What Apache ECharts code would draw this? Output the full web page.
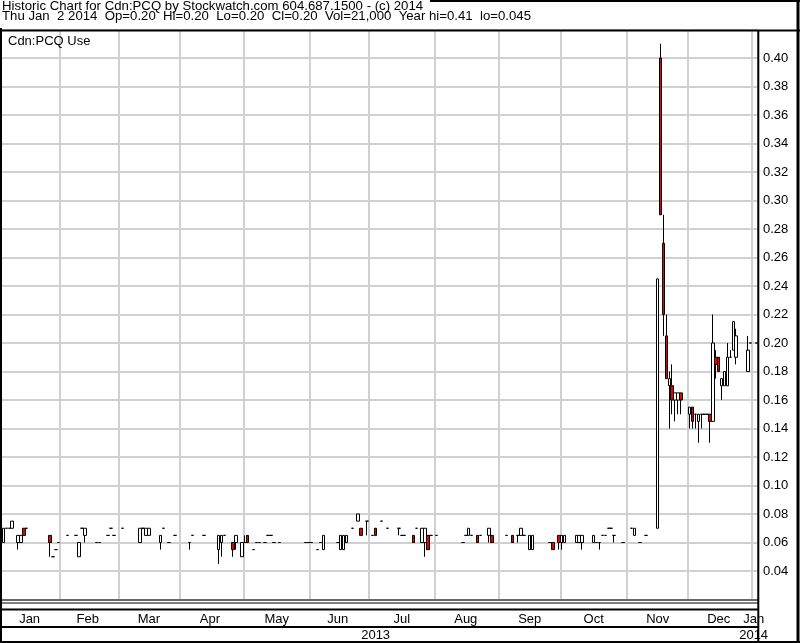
<!DOCTYPE html>
<html><head><meta charset="utf-8">
<script src="https://cdn.jsdelivr.net/npm/echarts/dist/echarts.min.js"></script>
<style>html,body{margin:0;padding:0;background:#fff}#c{width:800px;height:643px}</style>
</head><body><div id="c"></div><script>
// ---- data: rows are [dayOfMonth, open, close, low, high] ----
const jan13 = [[4,.06,.07,.06,.07],[7,.07,.07,.07,.07],[8,.07,.07,.07,.07],[9,.07,.075,.07,.075],[11,.06,.065,.055,.065],[14,.06,.065,.06,.065],[15,.07,.065,.065,.07],[16,.07,.07,.07,.07],[28,.065,.06,.05,.065],[29,.05,.05,.05,.05],[30,.055,.055,.055,.055],[31,.06,.06,.06,.06]];
const feb13 = [[5,.065,.065,.065,.065],[8,.065,.065,.065,.065],[11,.05,.06,.05,.06],[12,.07,.07,.07,.07],[13,.065,.07,.06,.07],[19,.06,.06,.06,.06],[20,.06,.06,.06,.06],[25,.065,.065,.065,.065],[26,.07,.07,.07,.07],[27,.065,.065,.065,.065]];
const mar13 = [[4,.07,.07,.07,.07],[12,.06,.07,.06,.07],[13,.07,.07,.07,.07],[14,.065,.07,.065,.07],[15,.065,.07,.065,.07],[21,.06,.065,.055,.065],[22,.07,.07,.07,.07],[26,.06,.06,.06,.06],[28,.065,.065,.065,.065]];
const apr13 = [[4,.06,.06,.055,.06],[5,.065,.065,.065,.065],[11,.065,.065,.065,.065],[18,.055,.065,.045,.065],[19,.06,.065,.05,.065],[22,.065,.065,.065,.065],[25,.06,.055,.05,.06],[26,.06,.065,.055,.065],[30,.05,.06,.05,.06]];
const may13 = [[1,.06,.06,.06,.065],[2,.065,.06,.06,.065],[6,.055,.055,.055,.055],[7,.06,.06,.06,.06],[8,.06,.06,.06,.06],[10,.06,.06,.06,.06],[13,.065,.065,.065,.065],[14,.065,.065,.065,.065],[15,.06,.06,.06,.06],[17,.06,.06,.06,.06],[30,.06,.06,.06,.06],[31,.06,.06,.06,.06]];
const jun13 = [[3,.06,.06,.06,.06],[5,.055,.055,.055,.055],[6,.06,.06,.06,.06],[7,.055,.065,.055,.065],[14,.06,.06,.06,.06],[17,.055,.065,.055,.065],[18,.055,.065,.055,.065],[19,.06,.065,.06,.065],[21,.07,.07,.07,.07],[25,.075,.08,.075,.08],[26,.07,.065,.065,.07],[28,.075,.075,.065,.075]];
const jul13 = [[2,.065,.065,.065,.065],[3,.07,.065,.065,.07],[5,.075,.075,.075,.075],[9,.07,.07,.07,.07],[15,.07,.07,.065,.07],[16,.065,.065,.065,.065],[17,.065,.065,.065,.065],[22,.065,.06,.06,.065],[23,.07,.07,.07,.07],[25,.06,.07,.06,.07],[26,.06,.07,.05,.07],[29,.065,.055,.055,.065],[30,.065,.065,.065,.065]];
const aug13 = [[1,.065,.065,.065,.065],[14,.06,.06,.06,.06],[15,.065,.065,.065,.065],[16,.065,.07,.065,.07],[19,.065,.065,.065,.065],[21,.065,.06,.06,.065],[22,.065,.065,.065,.065],[27,.065,.07,.06,.07],[28,.065,.06,.06,.065]];
const sep13 = [[4,.065,.065,.065,.065],[6,.065,.06,.06,.065],[10,.065,.065,.06,.065],[11,.065,.07,.065,.07],[12,.065,.065,.065,.065],[16,.055,.065,.055,.065],[17,.055,.065,.055,.065],[25,.06,.06,.06,.06],[26,.06,.055,.055,.06],[30,.065,.06,.055,.065]];
const oct13 = [[1,.06,.065,.055,.065],[2,.06,.065,.06,.065],[8,.06,.065,.06,.065],[9,.06,.065,.06,.065],[10,.06,.065,.055,.065],[16,.06,.065,.06,.065],[17,.06,.06,.06,.06],[18,.06,.06,.055,.06],[21,.065,.065,.065,.065],[22,.065,.065,.065,.065],[23,.07,.07,.07,.07],[24,.07,.07,.07,.07],[25,.065,.065,.06,.065],[30,.06,.06,.06,.06]];
const nov13 = [[4,.07,.07,.07,.07],[5,.065,.07,.065,.07],[7,.06,.06,.06,.06],[11,.065,.065,.065,.065],[15,.07,.245,.07,.245],[18,.40,.29,.29,.41],[19,.27,.22,.205,.29],[20,.205,.175,.175,.22],[21,.17,.175,.14,.18],[22,.17,.16,.15,.185],[25,.16,.165,.145,.165],[26,.16,.165,.15,.165],[27,.165,.16,.15,.165]];
const dec13 = [[2,.15,.155,.14,.155],[3,.155,.145,.14,.155],[4,.15,.15,.14,.15],[5,.145,.15,.13,.15],[6,.15,.15,.14,.15],[9,.15,.15,.15,.15],[10,.15,.15,.15,.15],[11,.15,.145,.13,.15],[12,.145,.20,.145,.22],[13,.19,.185,.175,.195],[16,.19,.18,.18,.19],[17,.17,.175,.16,.175],[18,.17,.18,.17,.18],[19,.17,.19,.17,.20],[20,.19,.19,.19,.195],[23,.195,.215,.195,.215],[24,.19,.205,.185,.21],[30,.18,.195,.18,.205],[31,.20,.20,.20,.20]];
const jan14 = [[2,.20,.20,.20,.20]];

const monthNames = ['Jan','Feb','Mar','Apr','May','Jun','Jul','Aug','Sep','Oct','Nov','Dec'];
const yearNames = ['2013','2014'];
const headerLine1 = 'Historic Chart for Cdn:PCQ by Stockwatch.com 604.687.1500 - (c) 2014';
const headerLine2 = 'Thu Jan  2 2014  Op=0.20  Hi=0.20  Lo=0.20  Cl=0.20  Vol=21,000  Year hi=0.41  lo=0.045';
const panelLabel = 'Cdn:PCQ Use';

// ---- build weekday categories (Jan 4 2013 .. Jan 2 2014) ----
const dates = [];
for (let t = Date.UTC(2013,0,4); t <= Date.UTC(2014,0,2); t += 86400000) {
  const d = new Date(t), wd = d.getUTCDay();
  if (wd !== 0 && wd !== 6) dates.push(d.toISOString().slice(0,10));
}
const monthly = [['2013-01',jan13],['2013-02',feb13],['2013-03',mar13],['2013-04',apr13],['2013-05',may13],['2013-06',jun13],['2013-07',jul13],['2013-08',aug13],['2013-09',sep13],['2013-10',oct13],['2013-11',nov13],['2013-12',dec13],['2014-01',jan14]];
const byDate = {};
monthly.forEach(([ym, rows]) => rows.forEach(r => {
  byDate[ym + '-' + String(r[0]).padStart(2,'0')] = [r[1], r[2], r[3], r[4]];
}));
const candles = dates.map(d => byDate[d] || ['-','-','-','-']);

// month starts / label positions
const monthStarts = [], monthLens = [];
dates.forEach((d,i) => {
  if (i === 0 || d.slice(0,7) !== dates[i-1].slice(0,7)) { monthStarts.push(i); monthLens.push(1); }
  else monthLens[monthLens.length-1]++;
});
const gridIdx = new Set(monthStarts.slice(1));
const monthLabelIdx = new Set(monthStarts.map((s,k) => s + Math.floor((monthLens[k]-1)/2)));
const firstOf2014 = dates.findIndex(d => d.startsWith('2014'));
const yearLabelIdx = new Set([Math.floor((firstOf2014-1)/2), firstOf2014]);

const FONT = '"Liberation Sans", Arial, sans-serif';
const GRID = '#d0d0d0';
const chart = echarts.init(document.getElementById('c'), null, {renderer:'canvas'});
const L = (x1,y1,x2,y2,w) => ({type:'line', z:100, silent:true, shape:{x1,y1,x2,y2}, style:{stroke:'#000', lineWidth:w}});
const T = (txt, x, y, size, sx) => ({type:'text', z:100, silent:true, x, y, scaleX: sx, scaleY: 1,
  style:{text: txt, x: 0, y: 0, font: size + 'px ' + FONT, fill:'#000', verticalAlign:'top', align:'left'}});
chart.setOption({
  animation: false,
  backgroundColor: '#ffffff',
  grid: {left: 2, right: 42, top: 29.5, bottom: 43.5, containLabel: false},
  xAxis: [{
    type: 'category', data: dates, boundaryGap: true,
    axisLine: {show:false}, axisTick: {show:false},
    axisLabel: {interval: (i) => monthLabelIdx.has(i), formatter: (v) => monthNames[parseInt(v.slice(5,7),10)-1],
      margin: 13, fontSize: 13, fontFamily: FONT, color: '#000'},
    splitLine: {show: true, interval: (i) => gridIdx.has(i), lineStyle: {color: GRID, width: 2}}
  },{
    type: 'category', data: dates, boundaryGap: true, position: 'bottom',
    axisLine: {show:false}, axisTick: {show:false}, splitLine: {show:false},
    axisLabel: {interval: (i) => yearLabelIdx.has(i), formatter: (v) => yearNames[parseInt(v.slice(0,4),10)-2013],
      margin: 29, fontSize: 13, fontFamily: FONT, color: '#000'}
  }],
  yAxis: {
    type: 'value', position: 'right', min: 0.02, max: 0.42, interval: 0.02,
    axisLine: {show:false}, axisTick: {show:false},
    axisLabel: {formatter: (v) => v.toFixed(2), showMinLabel: false, showMaxLabel: false,
      margin: 5, fontSize: 13, fontFamily: FONT, color: '#000'},
    splitLine: {show: true, lineStyle: {color: GRID, width: 2}}
  },
  series: [{
    type: 'candlestick', data: candles, barWidth: 3, xAxisIndex: 0,
    itemStyle: {color: '#ffffff', color0: '#e60000', borderColor: '#000', borderColor0: '#000', borderColorDoji: '#000', borderWidth: 1},
    emphasis: {disabled: true}
  }],
  graphic: [
    T(headerLine1, 2, 1, 12, 1.1),
    T(headerLine2, 2, 11, 12, 1.1),
    T(panelLabel, 8, 35, 13, 1),
    L(430,1,800,1,2), L(798,0,798,643,3), L(0,30.5,800,30.5,2), L(1,28,1,643,2),
    L(758.3,30,758.3,643,2), L(0,600,758,600,1), L(0,603,758,603,1),
    L(0,609.5,758,609.5,2), L(0,627,758,627,2), L(0,642,800,642,2)
  ]
});
</script></body></html>
